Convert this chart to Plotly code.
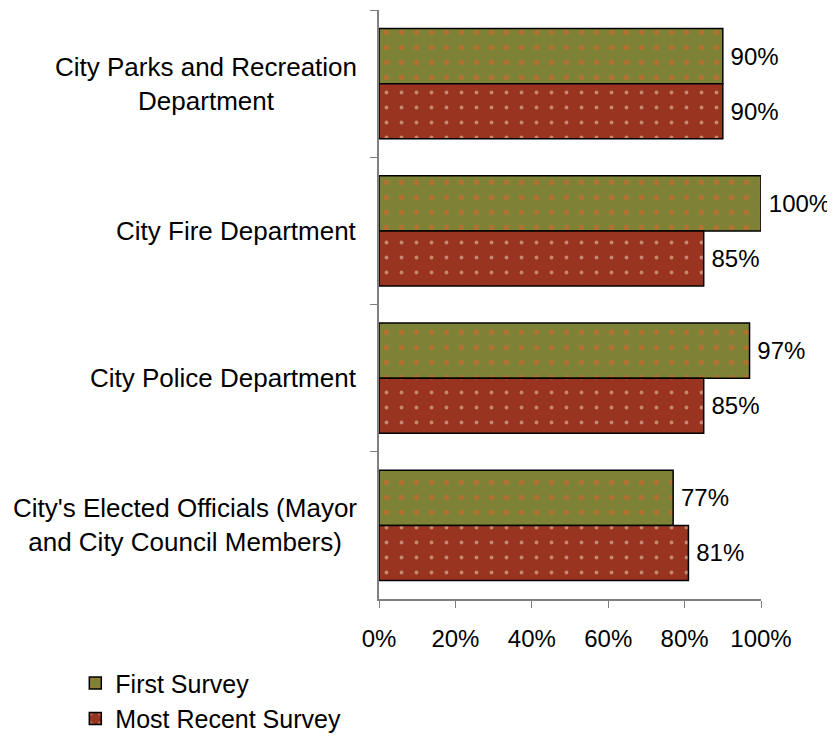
import plotly.graph_objects as go

# categories listed top to bottom as they appear in the chart
categories = [
    "City Parks and Recreation<br>Department",
    "City Fire Department",
    "City Police Department",
    "City's Elected Officials (Mayor<br>and City Council Members)",
]
first_survey = [90, 100, 97, 77]
recent_survey = [90, 85, 85, 81]
x_ticks = [0, 20, 40, 60, 80, 100]
x_tick_labels = ["0%", "20%", "40%", "60%", "80%", "100%"]

font = "Arial, Liberation Sans, sans-serif"

fig = go.Figure()
fig.add_trace(go.Bar(
    name="First Survey", y=categories, x=first_survey, orientation="h",
    marker=dict(color="#7e8236", line=dict(color="black", width=1.5),
                pattern=dict(shape=".", fillmode="overlay", fgcolor="#e6602a",
                             size=15, solidity=0.1)),
    text=["\u2009%d%%" % v for v in first_survey], texttemplate="%{text}",
    textposition="outside",
    textfont=dict(size=24, color="black", family=font),
    cliponaxis=False, hoverinfo="skip",
))
fig.add_trace(go.Bar(
    name="Most Recent Survey", y=categories, x=recent_survey, orientation="h",
    marker=dict(color="#983420", line=dict(color="black", width=1.5),
                pattern=dict(shape=".", fillmode="overlay", fgcolor="#f8dcc0",
                             size=15, solidity=0.05)),
    text=["\u2009%d%%" % v for v in recent_survey], texttemplate="%{text}",
    textposition="outside",
    textfont=dict(size=24, color="black", family=font),
    cliponaxis=False, hoverinfo="skip",
))

# category labels as centred blocks to the left of the axis
for cat in categories:
    fig.add_annotation(x=0, xref="paper", y=cat, yref="y", text=cat,
                       showarrow=False, xanchor="right", align="center",
                       xshift=-20, font=dict(size=26, color="black", family=font))

# page body adds an 8px offset, so the figure is sized and placed to allow for it
fig.update_layout(
    width=827, height=730,
    margin=dict(l=371, r=74, t=2, b=139, autoexpand=False),
    paper_bgcolor="white", plot_bgcolor="white",
    barmode="group", bargap=0.25, bargroupgap=0,
    font=dict(family=font, size=24, color="black"),
    legend=dict(x=-0.795, y=-0.104, xanchor="left", yanchor="top",
                font=dict(size=25), itemwidth=30, tracegroupgap=0),
    xaxis=dict(range=[0, 100], tickvals=x_ticks, ticktext=x_tick_labels,
               showgrid=False, zeroline=False, showline=True,
               linecolor="#808080", linewidth=1.5,
               ticks="outside", ticklen=7, tickcolor="#808080",
               tickfont=dict(size=24), ticklabelstandoff=10),
    yaxis=dict(autorange="reversed", showticklabels=False, showgrid=False,
               showline=True, linecolor="#808080", linewidth=1.5,
               ticks="outside", ticklen=7, tickcolor="#808080",
               tickson="boundaries"),
)

fig.write_html("out.html")
